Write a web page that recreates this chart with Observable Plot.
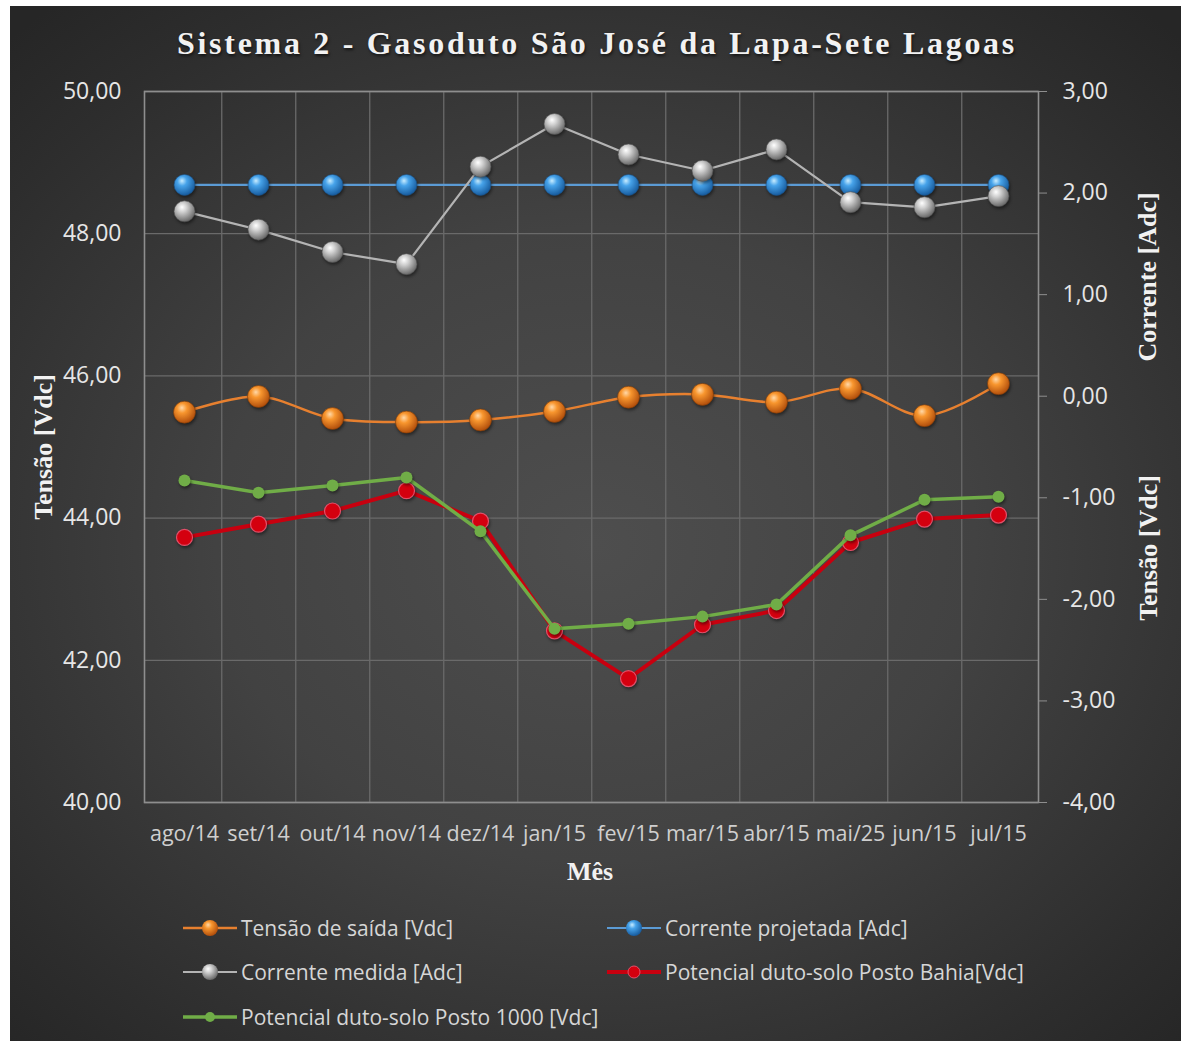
<!DOCTYPE html>
<html>
<head>
<meta charset="utf-8">
<script src="https://cdn.jsdelivr.net/npm/d3@7"></script>
<script src="https://cdn.jsdelivr.net/npm/@observablehq/plot@0.6"></script>
<style>
  html, body { margin: 0; padding: 0; background: #ffffff; }
  body { width: 1187px; height: 1046px; position: relative; overflow: hidden; }
  #frame { position: absolute; left: 10px; top: 6px; width: 1171px; height: 1035px;
    background: radial-gradient(ellipse 72% 68% at 50% 52%, #4e4e4e 0%, #424242 45%, #2d2d2d 85%, #262626 100%); }
  #title { position: absolute; left: 0; top: 27px; width: 1194px; text-align: center;
    font-family: "Liberation Serif", "DejaVu Serif", serif; font-weight: bold; font-size: 32px;
    letter-spacing: 2.7px; color: #f2f2f2; line-height: 1; text-shadow: 1px 2px 3px rgba(0,0,0,0.6); }
  #chart { position: absolute; left: 0; top: 70px; }
  .leg { position: absolute; display: flex; align-items: center; height: 30px;
    font-family: "Open Sans", sans-serif; font-size: 21px; color: #d6d6d6; white-space: nowrap; }
  .leg svg { margin-right: 4px; }
  .htxt { position: absolute; font-family: "Liberation Serif", serif; font-weight: bold; font-size: 26px;
    color: #f2f2f2; white-space: nowrap; line-height: 1; }
  #chart svg g[aria-label="dot"] { filter: drop-shadow(1px 2px 1.5px rgba(0,0,0,0.45)); }
</style>
</head>
<body>
<div id="frame"></div>
<svg width="0" height="0" style="position:absolute">
  <defs>
    <radialGradient id="gOrange" cx="40%" cy="35%" r="65%" fx="38%" fy="30%">
      <stop offset="0%" stop-color="#ffd8a8"/>
      <stop offset="35%" stop-color="#f8962e"/>
      <stop offset="100%" stop-color="#b24f0c"/>
    </radialGradient>
    <radialGradient id="gBlue" cx="40%" cy="35%" r="65%" fx="38%" fy="30%">
      <stop offset="0%" stop-color="#c8ecff"/>
      <stop offset="35%" stop-color="#47a3ea"/>
      <stop offset="100%" stop-color="#175c9f"/>
    </radialGradient>
    <radialGradient id="gGray" cx="40%" cy="35%" r="65%" fx="38%" fy="30%">
      <stop offset="0%" stop-color="#ffffff"/>
      <stop offset="35%" stop-color="#cfcfcf"/>
      <stop offset="100%" stop-color="#6a6a6a"/>
    </radialGradient>
  </defs>
</svg>
<div id="title">Sistema 2 - Gasoduto São José da Lapa-Sete Lagoas</div>
<div id="chart"></div>
<div id="legend"></div>
<script>
// ---- data ----
const months = ["ago/14","set/14","out/14","nov/14","dez/14","jan/15","fev/15","mar/15","abr/15","mai/25","jun/15","jul/15"];
const tensaoSaida = [45.49,45.71,45.40,45.35,45.38,45.50,45.70,45.74,45.63,45.82,45.44,45.89];
const correnteProjetada = [2.08,2.08,2.08,2.08,2.08,2.08,2.08,2.08,2.08,2.08,2.08,2.08];
const correnteMedida = [1.82,1.64,1.42,1.30,2.26,2.68,2.38,2.22,2.43,1.91,1.86,1.97];
const potencialBahia = [-1.39,-1.26,-1.13,-0.93,-1.23,-2.31,-2.78,-2.25,-2.11,-1.44,-1.21,-1.17];
const potencial1000 = [-0.83,-0.95,-0.88,-0.80,-1.33,-2.29,-2.24,-2.17,-2.05,-1.37,-1.02,-0.99];
const leftTicks = [40,42,44,46,48,50];
const rightTicks = [-4,-3,-2,-1,0,1,2,3];
const leftDomain = [40,50];
const rightDomain = [-4,3];
const seriesNames = ["Tensão de saída [Vdc]","Corrente projetada [Adc]","Corrente medida [Adc]","Potencial duto-solo Posto Bahia[Vdc]","Potencial duto-solo Posto 1000 [Vdc]"];

// ---- helpers ----
const toLeft = v => leftDomain[0] + (v - rightDomain[0]) * (leftDomain[1]-leftDomain[0]) / (rightDomain[1]-rightDomain[0]);
const fromLeft = v => rightDomain[0] + (v - leftDomain[0]) * (rightDomain[1]-rightDomain[0]) / (leftDomain[1]-leftDomain[0]);
const fmt = v => d3.format(".2f")(v).replace(".", ",").replace("\u2212", "-");

const rows = months.map((m, i) => ({
  m,
  ts: tensaoSaida[i],
  cp: toLeft(correnteProjetada[i]),
  cm: toLeft(correnteMedida[i]),
  pb: toLeft(potencialBahia[i]),
  p1: toLeft(potencial1000[i])
}));

const W = 1187, H = 830, ML = 144, MR = 149, MT = 21, MB = 98;
const step = (W - ML - MR) / months.length;
const gridColor = "#6a6a6a";

const chart = Plot.plot({
  width: W, height: H,
  marginLeft: ML, marginRight: MR, marginTop: MT, marginBottom: MB,
  style: { background: "transparent", color: "#d9d9d9", fontFamily: "'Open Sans', sans-serif", fontSize: "21px", overflow: "visible" },
  x: { type: "point", domain: months, padding: 0.5 },
  y: { domain: leftDomain },
  marks: [
    Plot.gridY(leftTicks, { stroke: gridColor, strokeOpacity: 1, strokeWidth: 1.3 }),
    Plot.ruleX(months.slice(0, -1), { dx: step / 2, stroke: gridColor, strokeWidth: 1.3 }),
    Plot.frame({ stroke: "#8e8e8e", strokeWidth: 1.6 }),
    Plot.axisY(leftTicks, { tickSize: 0, tickPadding: 23, tickFormat: fmt, label: null, fontSize: 23, color: "#e6e6e6" }),
    Plot.axisY(rightTicks.map(toLeft), { anchor: "right", tickSize: 8, tickPadding: 16, stroke: "#8e8e8e",
      tickFormat: d => fmt(Math.round(fromLeft(d) * 100) / 100), label: null, fontSize: 23, color: "#e6e6e6" }),
    Plot.axisX({ tickSize: 0, tickPadding: 23, label: null, fontSize: 21.5, color: "#cfcfcf" }),

    // Tensão de saída (left axis, smoothed)
    Plot.line(rows, { x: "m", y: "ts", stroke: "#e7802f", strokeWidth: 2.5, curve: "catmull-rom" }),
    Plot.dot(rows, { x: "m", y: "ts", r: 11, fill: "url(#gOrange)", stroke: "#7a3a08", strokeWidth: 0.6 }),
    // Corrente projetada (right axis)
    Plot.line(rows, { x: "m", y: "cp", stroke: "#5b9bd5", strokeWidth: 2.2 }),
    Plot.dot(rows, { x: "m", y: "cp", r: 10.5, fill: "url(#gBlue)", stroke: "#1d4f80", strokeWidth: 0.6 }),
    // Corrente medida (right axis)
    Plot.line(rows, { x: "m", y: "cm", stroke: "#b4b4b4", strokeWidth: 2.2 }),
    Plot.dot(rows, { x: "m", y: "cm", r: 10.5, fill: "url(#gGray)", stroke: "#555555", strokeWidth: 0.6 }),
    // Potencial Bahia (right axis)
    Plot.line(rows, { x: "m", y: "pb", stroke: "#c8000f", strokeWidth: 4 }),
    Plot.dot(rows, { x: "m", y: "pb", r: 8, fill: "#d4000f", stroke: "#e0506a", strokeWidth: 1.2 }),
    // Potencial 1000 (right axis)
    Plot.line(rows, { x: "m", y: "p1", stroke: "#70ad47", strokeWidth: 3.5 }),
    Plot.dot(rows, { x: "m", y: "p1", r: 6, fill: "#70ad47" })
  ]
});
document.getElementById("chart").appendChild(chart);

// ---- axis titles ----
function addText(txt, x, y, rot) {
  const d = document.createElement("div");
  d.className = "htxt";
  d.textContent = txt;
  document.body.appendChild(d);
  const r = d.getBoundingClientRect();
  d.style.left = (x - r.width / 2) + "px";
  d.style.top = (y - r.height / 2) + "px";
  if (rot) d.style.transform = "rotate(" + rot + "deg)";
}
addText("Tensão [Vdc]", 44, 447, -90);
addText("Corrente [Adc]", 1148, 277, -90);
addText("Tensão [Vdc]", 1149, 548, -90);
addText("Mês", 590, 872, 0);

// ---- legend ----
const legendDefs = [
  { name: seriesNames[0], x: 183, y: 928, line: "#e7802f", lw: 2.5, r: 8, fill: "url(#gOrange)" },
  { name: seriesNames[1], x: 607, y: 928, line: "#5b9bd5", lw: 2.2, r: 8, fill: "url(#gBlue)" },
  { name: seriesNames[2], x: 183, y: 972, line: "#b4b4b4", lw: 2.2, r: 8, fill: "url(#gGray)" },
  { name: seriesNames[3], x: 607, y: 972, line: "#c8000f", lw: 4, r: 6, fill: "#d4000f", stroke: "#e0506a" },
  { name: seriesNames[4], x: 183, y: 1017, line: "#70ad47", lw: 3.5, r: 5, fill: "#70ad47" }
];
const legend = document.getElementById("legend");
for (const L of legendDefs) {
  const item = document.createElement("div");
  item.className = "leg";
  item.style.left = L.x + "px";
  item.style.top = (L.y - 15) + "px";
  item.innerHTML =
    `<svg width="54" height="22"><line x1="0" y1="11" x2="54" y2="11" stroke="${L.line}" stroke-width="${L.lw}"/>` +
    `<circle cx="27" cy="11" r="${L.r}" fill="${L.fill}" ${L.stroke ? `stroke="${L.stroke}" stroke-width="1"` : ""}/></svg>` +
    `<span>${L.name}</span>`;
  legend.appendChild(item);
}
</script>
</body>
</html>
